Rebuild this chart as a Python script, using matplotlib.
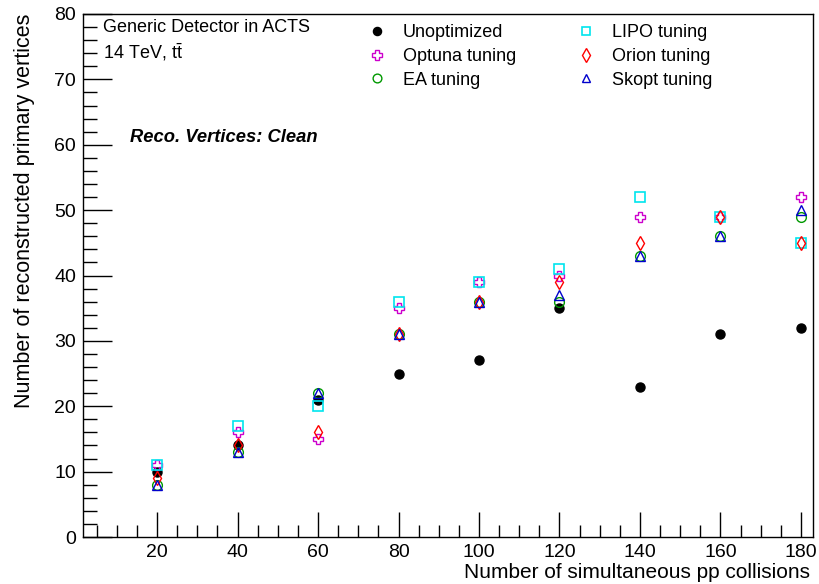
import matplotlib
matplotlib.use("Agg")
import matplotlib.pyplot as plt
from matplotlib.ticker import MultipleLocator

plt.rcParams['font.family'] = ['Liberation Sans', 'DejaVu Sans']

pileup = [20, 40, 60, 80, 100, 120, 140, 160, 180]

unoptimized = [10, 14, 21, 25, 27, 35, 23, 31, 32]
optuna = [11, 16, 15, 35, 39, 40, 49, 49, 52]
ea = [8, 13, 22, 31, 36, 36, 43, 46, 49]
lipo = [11, 17, 20, 36, 39, 41, 52, 49, 45]
orion = [9, 14, 16, 31, 36, 39, 45, 49, 45]
skopt = [8, 13, 22, 31, 36, 37, 43, 46, 50]

labels = ["Unoptimized", "Optuna tuning", "EA tuning",
          "LIPO tuning", "Orion tuning", "Skopt tuning"]

W, H = 819, 584
fig = plt.figure(figsize=(W / 100, H / 100), dpi=100)
ax = fig.add_axes([83 / W, 1 - 537 / H, (813 - 83) / W, (537 - 14) / H])

styles = [
    (unoptimized, dict(marker='o', ms=6.5, mfc='black', mec='black')),
    (optuna, dict(marker='P', ms=7.5, mfc='none', mec='#cc00cc', mew=1.0)),
    (ea, dict(marker='o', ms=7, mfc='none', mec='#009900', mew=1.0)),
    (lipo, dict(marker='s', ms=7, mfc='none', mec='#00e5ee', mew=1.2)),
    (orion, dict(marker='d', ms=7.5, mfc='none', mec='red', mew=1.0)),
    (skopt, dict(marker='^', ms=7, mfc='none', mec='#0000cc', mew=1.0)),
]
handles = []
for (vals, st), lab in zip(styles, labels):
    h, = ax.plot(pileup, vals, linestyle='none', label=lab, **st)
    handles.append(h)

ax.set_xlim(1.6, 183)
ax.set_ylim(0, 80)
ax.xaxis.set_major_locator(MultipleLocator(20))
ax.xaxis.set_minor_locator(MultipleLocator(5))
ax.yaxis.set_major_locator(MultipleLocator(10))
ax.yaxis.set_minor_locator(MultipleLocator(2))
ax.tick_params(which='both', direction='in', top=False, right=False,
               labelsize=14, width=1.0)
ax.tick_params(axis='y', which='major', length=21, pad=5)
ax.tick_params(axis='y', which='minor', length=10)
ax.tick_params(axis='x', which='major', length=18, pad=5)
ax.tick_params(axis='x', which='minor', length=9)
for s in ax.spines.values():
    s.set_linewidth(1.0)

fig.text(810 / W, 1 - 572 / H, "Number of simultaneous pp collisions",
         ha='right', va='center', fontsize=15)
fig.text(25 / W, 1 - 14 / H, "Number of reconstructed primary vertices",
         ha='center', va='top', rotation=90, fontsize=15.5)

ax.text(103 / W, 1 - 27 / H, "Generic Detector in ACTS", transform=fig.transFigure,
        ha='left', va='center', fontsize=13)
ax.text(103 / W, 1 - 52 / H, r"14 TeV, $\mathregular{t\bar{t}}$", transform=fig.transFigure,
        ha='left', va='center', fontsize=13)
ax.text(130 / W, 1 - 138 / H, "Reco. Vertices: Clean", transform=fig.transFigure,
        ha='left', va='center', fontsize=13.2, fontweight='bold', fontstyle='italic')

leg = ax.legend(handles=handles, ncol=2, frameon=False, fontsize=13,
                loc='upper left', bbox_to_anchor=(366 / W, 1 - 24 / H),
                bbox_transform=fig.transFigure, handlelength=1.2,
                handletextpad=0.85, columnspacing=3.25, labelspacing=0.38,
                borderaxespad=0, borderpad=0, markerscale=0.9)

fig.savefig("out.png", dpi=100)
